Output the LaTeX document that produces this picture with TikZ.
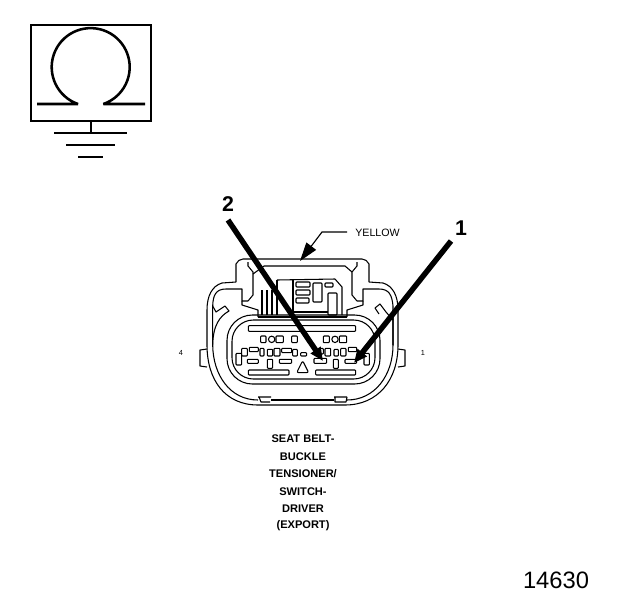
\documentclass[tikz,border=0pt]{standalone}
\usepackage{fontspec}
\setmainfont{Liberation Sans}
\usetikzlibrary{arrows.meta}
\tikzset{
 sym/.style={line width=1.9pt,black,line join=bevel},
 cl/.style={line width=.8pt,black},
 cell/.style={draw,line width=.8pt,rounded corners=.6pt},
 lab/.style={font=\bfseries\fontsize{8.3pt}{9pt}\selectfont,inner sep=0pt},
 big/.style={-{Triangle[length=10pt,width=8.5pt]},line width=4.1pt,black},
}
\begin{document}
\begin{tikzpicture}[x=.75pt,y=-.75pt]
\useasboundingbox (0,0) rectangle (624,600);
% symbol
\draw[line width=1.7pt] (31,25) rectangle (151,121);
\draw[sym] (37,104) -- (78,104) arc[start angle=251,end angle=-71,radius=29.25pt] -- (145,104);
\draw[line width=1.2pt] (91,121) -- (91,133);
\draw[line width=1.5pt] (54,133) -- (127,133) (66,145) -- (115,145) (78,157) -- (103,157);
% housing
\begin{scope}[line join=round]
\draw[cl] (236,282) -- (236,264) to[out=60,in=180] (243,259) -- (362,259) to[out=0,in=120] (369,264) -- (369,282);
\draw[cl] (236,282) -- (222,283) .. controls (212,286) and (207,296) .. (207,310) -- (207,345)
  .. controls (207,380) and (225,405) .. (258,405) -- (345,405) .. controls (378,405) and (398,380) .. (398,345) -- (398,310)
  .. controls (398,296) and (393,286) .. (383,283) -- (369,282);
% inner contour left
\draw[cl] (212.7,345) -- (212.7,306) .. controls (213,295) and (216,289) .. (226,289) -- (242,289) -- (242,301) -- (248,301) -- (253,295) -- (253,272) -- (248,266) -- (248,262);
\draw[cl] (242,301) -- (242,305) -- (258,310) -- (258,317);
\draw[cl] (212.7,306) -- (216,312) -- (225,306) -- (229,311) .. controls (220,316) and (213,325) .. (212.7,345);
\draw[cl] (212.7,345) .. controls (213,375) and (230,400) .. (258,400);
\draw[cl] (271,400) -- (334,400);
\draw[cl] (347,400) .. controls (375,400) and (393,375) .. (393,345) -- (393,310) ;
% inner contour right
\draw[cl] (393,345) -- (393,306) .. controls (392,295) and (389,289) .. (379,289) -- (363,289) -- (363,301) -- (357,301) -- (352,295) -- (352,272) -- (357,266) -- (357,262);
\draw[cl] (363,301) -- (363,305) -- (347,310) -- (347,317);
\draw[cl] (393,320) -- (386,312) -- (380,304) -- (375,308) -- (379,314);
% cap inner
\draw[cl] (264,266) -- (345,266) -- (352,272);
\draw[cl] (264,266) -- (253,274);
% upper block
\draw[cl] (277,280) -- (335,279) -- (342,287) -- (342,315);
\draw[cl] (262,290) -- (262,315) (267,290) -- (267,315) (272,290) -- (272,315) (277,280) -- (277,315);
\draw[cl] (293,280) -- (293,312) -- (328,312);
\draw[cl] (258,317) -- (347,317);
\foreach \a/\b/\c/\d in {296/310/282/287,296/310/290/295,296/309/298/303,313/322/283/302,325/333/283/287,328/337/293/315}
 \draw[cell] (\a,\c) rectangle (\b,\d);
% cavity
\draw[cl,rounded corners=19pt] (227,315) rectangle (380,384);
\draw[cl,rounded corners=16pt] (232,320) rectangle (375,379);
% tabs
\draw[cl] (207,349) -- (200,350) -- (200,366) -- (207,367);
\draw[cl] (398,349) -- (405,350) -- (405,366) -- (398,367);
\draw[cl] (258,397) -- (271,397) (259,397) -- (261,402) -- (270,402);
\draw[cl] (334,397) -- (347,397) (335,397) -- (335,402) -- (346,402) -- (347,397);
\end{scope}
% cells in magnified coordinates
\begin{scope}[shift={(190,210)},x=.25pt,y=-.25pt,line join=round]
\draw[cell] (175,347) rectangle (497,364);
\draw[cell] (175,480) rectangle (297,495);
\draw[cell] (377,480) rectangle (497,495);
\foreach \a/\b in {212/228,258/280,305/322,400/418,448/470}
 \draw[cell] (\a,378) rectangle (\b,398);
\draw[cl] (245,388) circle[radius=2.4pt] (435,388) circle[radius=2.4pt];
\foreach \a/\b/\c/\d in {155/172/415/438,178/205/412/425,210/222/415/438,232/248/418/438,252/270/415/438,275/305/415/428,308/322/418/438,332/350/428/438,405/422/415/438,432/445/418/438,452/468/415/438,475/500/412/425,385/400/415/432}
 \draw[cell] (\a,\c) rectangle (\b,\d);
\foreach \a/\b/\c/\d in {172/205/448/460,232/248/448/475,268/305/448/460,372/410/445/460,430/445/448/475,465/500/448/460,138/155/430/465,522/538/430/465}
 \draw[cell] (\a,\c) rectangle (\b,\d);
\draw[cl,rounded corners=1.5pt] (320,488) -- (338,452) -- (356,488) -- cycle;
\end{scope}
% labels
\node[inner sep=0pt,font=\fontsize{8pt}{9pt}\selectfont] (yellow) at (377.5,233) {YELLOW};
\coordinate (ytip) at (300,261);
\coordinate (yk) at (322,232);
\draw[line width=.85pt,-{Triangle[length=14pt,width=9pt]}] (yellow.west) ++(-8,-1) -- (yk) -- (ytip);
\node[inner sep=0pt,font=\bfseries\fontsize{16pt}{18pt}\selectfont] (two) at (228,204) {2};
\node[inner sep=0pt,font=\bfseries\fontsize{16pt}{18pt}\selectfont] (one) at (461,228) {1};
\coordinate (t2) at (323,361);
\coordinate (t1) at (354,363);
\draw[big] (228,220) -- (t2);
\draw[big] (451,241) -- (t1);
\node[inner sep=0pt,font=\fontsize{5.5pt}{6pt}\selectfont] (p4) at (181,353) {4};
\node[inner sep=0pt,font=\fontsize{5.5pt}{6pt}\selectfont] (p1) at (423,353) {1};
\node[lab] (l1) at (303,439) {SEAT BELT-};
\node[lab] (l2) at (303,457) {BUCKLE};
\node[lab] (l3) at (303,474) {TENSIONER/};
\node[lab] (l4) at (303,492) {SWITCH-};
\node[lab] (l5) at (303,509) {DRIVER};
\node[lab] (l6) at (303,526) {(EXPORT)};
\node[inner sep=0pt,font=\fontsize{17.8pt}{20pt}\selectfont] (num) at (556,580) {14630};
\end{tikzpicture}
\end{document}
